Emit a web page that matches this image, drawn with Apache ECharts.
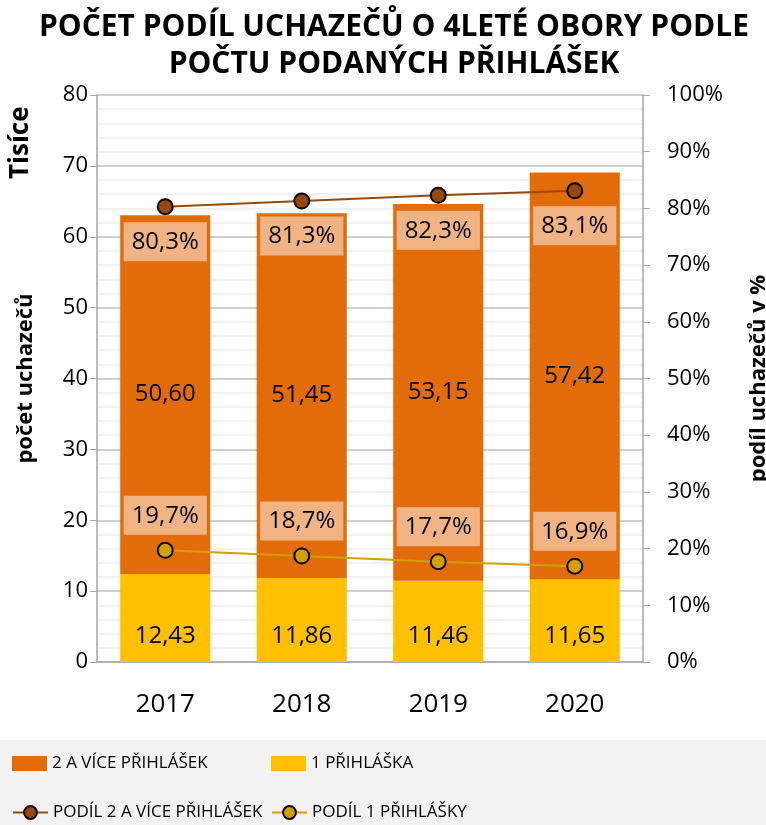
<!DOCTYPE html>
<html>
<head>
<meta charset="utf-8">
<script src="https://cdn.jsdelivr.net/npm/echarts@6/dist/echarts.min.js"></script>
<style>
html, body { margin: 0; padding: 0; background: #fff; }
#chart { width: 766px; height: 825px; }
</style>
</head>
<body>
<div id="chart"></div>
<script>
// data
var years = ['2017', '2018', '2019', '2020'];
var jednaPrihlaska = [12.43, 11.86, 11.46, 11.65];
var vicePrihlasek = [50.60, 51.45, 53.15, 57.42];
var podilVice = [80.3, 81.3, 82.3, 83.1];
var podilJedna = [19.7, 18.7, 17.7, 16.9];

var font = '"Open Sans", sans-serif';

function carka(v, d) {
	return v.toFixed(d).replace('.', ',');
}

var boxLabel = {
	show : true,
	fontFamily : font,
	fontSize : 24,
	color : '#000',
	backgroundColor : '#F0B383',
	padding : [8, 8, 7, 8],
	formatter : function(p) { return carka(p.value, 1) + '%'; }
};

var legendText = { fontFamily : font, fontSize : 17, color : '#000' };

var myChart = echarts.init(document.getElementById('chart'));
var option = {
	animation : false,
	textStyle : { fontFamily : font },
	title : {
		text : 'POČET PODÍL UCHAZEČŮ O 4LETÉ OBORY PODLE\nPOČTU PODANÝCH PŘIHLÁŠEK',
		left : 389,
		top : 4,
		textAlign : 'center',
		textStyle : {
			fontFamily : font,
			fontSize : 30,
			fontWeight : 'bold',
			lineHeight : 37,
			color : '#000'
		}
	},
	graphic : [ {
		type : 'rect',
		shape : { x : 0, y : 740, width : 766, height : 85 },
		style : { fill : '#F2F2F2' },
		z : -1
	}, {
		type : 'text',
		x : 8,
		y : 179,
		rotation : Math.PI / 2,
		style : {
			text : 'Tisíce',
			font : 'bold 26px ' + font,
			fill : '#000'
		}
	} ],
	legend : [ {
		left : 12, top : 755, padding : 0,
		itemWidth : 35, itemHeight : 15,
		textStyle : legendText,
		data : [ { name : '2 A VÍCE PŘIHLÁŠEK', icon : 'rect' } ]
	}, {
		left : 271, top : 755, padding : 0,
		itemWidth : 35, itemHeight : 15,
		textStyle : legendText,
		data : [ { name : '1 PŘIHLÁŠKA', icon : 'rect' } ]
	}, {
		left : 12, top : 804, padding : 0,
		itemWidth : 35, itemHeight : 16,
		textStyle : legendText,
		data : [ 'PODÍL 2 A VÍCE PŘIHLÁŠEK' ]
	}, {
		left : 271, top : 804, padding : 0,
		itemWidth : 35, itemHeight : 16,
		textStyle : legendText,
		data : [ 'PODÍL 1 PŘIHLÁŠKY' ]
	} ],
	grid : { left : 97, right : 123, top : 95, bottom : 163, outerBoundsMode : 'none' },
	xAxis : {
		type : 'category',
		data : years,
		axisLine : { lineStyle : { color : '#A6A6A6', width : 1.5 } },
		axisTick : { show : false },
		axisLabel : { fontFamily : font, fontSize : 26, color : '#000', margin : 30 }
	},
	yAxis : [ {
		type : 'value',
		min : 0, max : 80, interval : 10,
		name : 'počet uchazečů',
		nameLocation : 'middle',
		nameRotate : 90,
		nameGap : 60,
		nameTextStyle : { fontFamily : font, fontSize : 22, fontWeight : 'bold', color : '#000' },
		axisLine : { show : true, lineStyle : { color : '#A6A6A6', width : 1.5 } },
		axisTick : { show : true, inside : false, length : 7, lineStyle : { color : '#A6A6A6' } },
		axisLabel : { fontFamily : font, fontSize : 22, color : '#000', margin : 9 },
		splitLine : { lineStyle : { color : '#BFBFBF', width : 1.5 } },
		minorTick : { show : false, splitNumber : 5 },
		minorSplitLine : { show : true, lineStyle : { color : '#EDEDED', width : 1.5 } }
	}, {
		type : 'value',
		min : 0, max : 100, interval : 10,
		name : 'podíl uchazečů v %',
		nameLocation : 'middle',
		nameRotate : 90,
		nameGap : 105,
		nameTextStyle : { fontFamily : font, fontSize : 22, fontWeight : 'bold', color : '#000' },
		axisLine : { show : true, lineStyle : { color : '#A6A6A6', width : 1.5 } },
		axisTick : { show : true, inside : false, length : 7, lineStyle : { color : '#A6A6A6' } },
		axisLabel : { fontFamily : font, fontSize : 22, color : '#000', margin : 24, formatter : '{value}%' },
		splitLine : { show : false }
	} ],
	series : [ {
		name : '1 PŘIHLÁŠKA',
		type : 'bar',
		stack : 'a',
		barWidth : '66%',
		itemStyle : { color : '#FFC000' },
		label : {
			show : true,
			position : 'insideBottom',
			distance : 14,
			fontFamily : font,
			fontSize : 24,
			color : '#000',
			formatter : function(p) { return carka(p.value, 2); }
		},
		data : jednaPrihlaska
	}, {
		name : '2 A VÍCE PŘIHLÁŠEK',
		type : 'bar',
		stack : 'a',
		itemStyle : { color : '#E36C0A' },
		label : {
			show : true,
			position : 'inside',
			fontFamily : font,
			fontSize : 24,
			color : '#000',
			formatter : function(p) { return carka(p.value, 2); }
		},
		data : vicePrihlasek
	}, {
		name : 'PODÍL 2 A VÍCE PŘIHLÁŠEK',
		type : 'line',
		yAxisIndex : 1,
		symbol : 'circle',
		symbolSize : 15,
		itemStyle : { color : '#984807', borderColor : '#000', borderWidth : 2 },
		lineStyle : { color : '#984807', width : 2 },
		label : echarts.util.merge({ position : 'bottom', distance : 7 }, boxLabel),
		z : 5,
		data : podilVice
	}, {
		name : 'PODÍL 1 PŘIHLÁŠKY',
		type : 'line',
		yAxisIndex : 1,
		symbol : 'circle',
		symbolSize : 15,
		itemStyle : { color : '#D4A000', borderColor : '#000', borderWidth : 2 },
		lineStyle : { color : '#D4A000', width : 2 },
		label : echarts.util.merge({ position : 'top', distance : 7 }, boxLabel),
		z : 5,
		data : podilJedna
	} ]
};
myChart.setOption(option);
</script>
</body>
</html>
